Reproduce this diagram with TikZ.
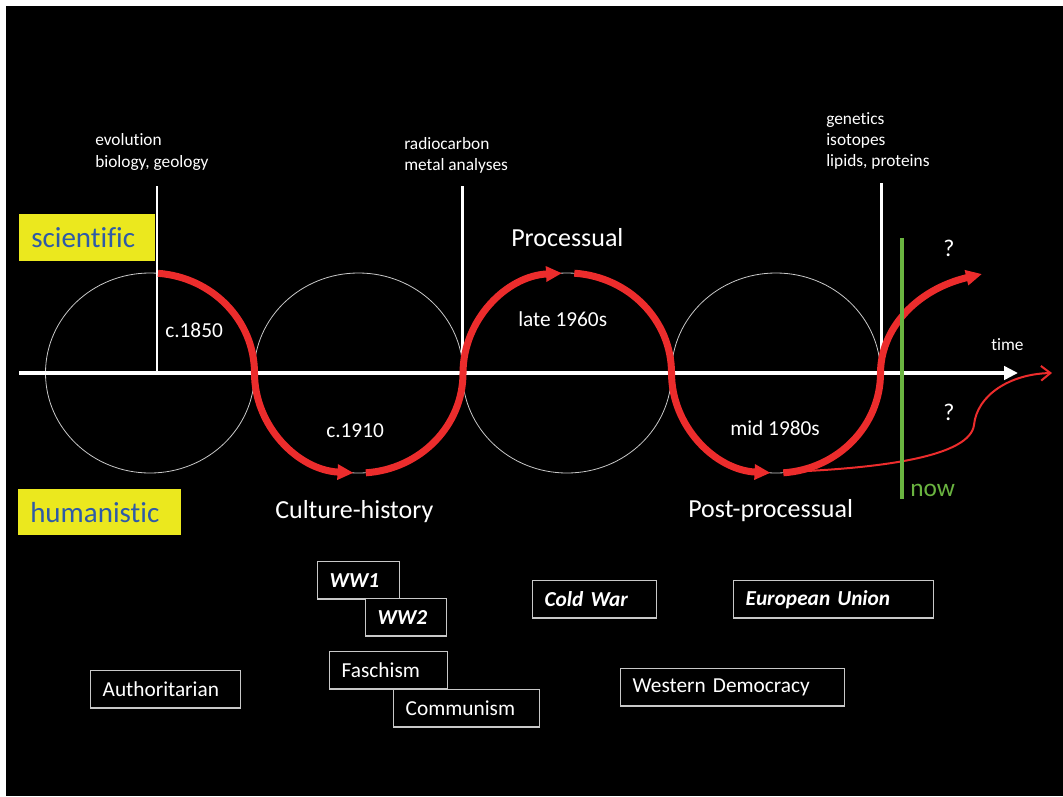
\documentclass[tikz,border=0pt]{standalone}
\usepackage{fontspec}
\setmainfont{Carlito}[Ligatures=NoCommon]
\usetikzlibrary{arrows.meta}
\definecolor{slidered}{RGB}{236,44,44}
\definecolor{slideyellow}{RGB}{235,232,30}
\definecolor{slideblue}{RGB}{46,90,168}
\definecolor{slidegreen}{RGB}{106,180,64}
\definecolor{framegray}{RGB}{200,200,200}
\begin{document}
\begin{tikzpicture}[x=0.75pt,y=0.75pt,yscale=-1,xscale=1,
  smalllabel/.style={anchor=west,inner sep=0pt,align=left,text=white,font=\fontsize{13}{16}\selectfont},
  eralabel/.style={anchor=west,inner sep=0pt,text=white,font=\fontsize{19.5}{23}\selectfont},
  datelabel/.style={anchor=west,inner sep=0pt,text=white,font=\fontsize{16}{19}\selectfont},
  yellowtag/.style={anchor=north west,fill=slideyellow,text=slideblue,inner xsep=9pt,inner ysep=0pt,align=left,font=\fontsize{21.75}{26}\selectfont},
  eventbox/.style={anchor=north west,draw=framegray,line width=1pt,fill=black,text=white,inner xsep=9pt,inner ysep=0pt,minimum height=28pt,align=left,font=\fontsize{16}{19}\selectfont},
  ring/.style={draw=framegray,line width=0.6pt},
  swing/.style={draw=slidered,line width=5.25pt,-{Triangle[length=12pt,width=11pt]}},
]
\useasboundingbox (0,0) rectangle (1063,796);

%Shape: Background
\fill [white] (0,0) rectangle (1063,796);
\fill [black] (6,6) rectangle (1063,796);

%Shape: Ellipses
\draw [ring] (150,373) ellipse [x radius=104.5,y radius=100];
\draw [ring] (358.5,373) ellipse [x radius=104.5,y radius=100];
\draw [ring] (567,373) ellipse [x radius=104.5,y radius=100];
\draw [ring] (776,373) ellipse [x radius=104.5,y radius=100];

%Straight Lines: time axis
\draw [white,line width=3pt,-{Triangle[length=10.5pt,width=10pt]}] (19,373) -- (1018,373);
%Straight Lines: markers
\draw [white,line width=1.8pt] (157,186) -- (157,373);
\draw [white,line width=1.8pt] (462.5,186) -- (462.5,373);
\draw [white,line width=1.8pt] (881.5,183) -- (881.5,373);

%Shape: Arcs
\draw [swing] (158,273.3) arc [start angle=-85.6,end angle=0,x radius=104.5,y radius=100]
  arc [start angle=180,end angle=93,x radius=104.5,y radius=100];
\draw [swing] (365.8,472.8) arc [start angle=86,end angle=0,x radius=104.5,y radius=100]
  arc [start angle=180,end angle=267,x radius=104.5,y radius=100];
\draw [swing] (574.3,273.2) arc [start angle=274,end angle=360,x radius=104.5,y radius=100]
  arc [start angle=180,end angle=93,x radius=104.5,y radius=100];
\draw [swing] (783.3,472.8) arc [start angle=86,end angle=0,x radius=104.5,y radius=100]
  .. controls (880.5,330) and (915,290) .. (982,274);
%Curve: second future
\draw [slidered,line width=1.5pt,-{Straight Barb[length=7pt,width=11pt]}] (785,472) .. controls (890,468) and (970,455) .. (974,425) .. controls (977,395) and (1010,374) .. (1052,373);

%Straight Lines: now
\draw [slidegreen,line width=3pt] (902,238) -- (902,499);

% Text Node
\node [smalllabel] (evo) at (95,152) {evolution\\biology, geology};
% Text Node
\node [smalllabel] (radio) at (404,155.5) {radiocarbon\\metal analyses};
% Text Node
\node [smalllabel] (genet) at (826,141) {genetics\\isotopes\\lipids, proteins};
% Text Node
\node [yellowtag,text width=84pt,minimum height=35.25pt] (sci) at (19,214) {scientific};
% Text Node
\node [yellowtag,text width=104.25pt,minimum height=34.5pt] (hum) at (18,489) {humanistic};
% Text Node
\node [eralabel] (proc) at (511,238) {Processual};
% Text Node
\node [eralabel] (culture) at (275,512) {Culture-history};
% Text Node
\node [eralabel] (post) at (688,511) {Post-processual};
% Text Node
\node [datelabel] (d1850) at (165,330) {c.1850};
% Text Node
\node [datelabel] (d1910) at (326,431) {c.1910};
% Text Node
\node [datelabel] (d1960) at (518,319) {late 1960s};
% Text Node
\node [datelabel] (d1980) at (730,428) {mid 1980s};
% Text Node
\node [smalllabel] (time) at (991,345) {time};
% Text Node
\node [anchor=west,inner sep=0pt,text=white,font=\fontsize{18}{21}\selectfont] (qup) at (943,248) {?};
% Text Node
\node [anchor=west,inner sep=0pt,text=white,font=\fontsize{18}{21}\selectfont] (qdown) at (943,412) {?};
% Text Node
\node [anchor=west,inner sep=0pt,text=slidegreen,font=\fontsize{19}{22}\selectfont] (now) at (910,490) {now};

% Boxes
\node [eventbox,text width=43.5pt,font=\fontsize{16}{19}\selectfont\bfseries\itshape] (ww1) at (317,561) {WW1};
\node [eventbox,text width=42.75pt,font=\fontsize{16}{19}\selectfont\bfseries\itshape] (ww2) at (365,598) {WW2};
\node [eventbox,text width=75pt,font=\fontsize{16}{19}\selectfont\bfseries\itshape] (cold) at (532,580) {Cold War};
\node [eventbox,text width=132pt,font=\fontsize{16}{19}\selectfont\bfseries\itshape] (eu) at (733,580) {European Union};
\node [eventbox,text width=70.5pt] (fasc) at (329,651) {Faschism};
\node [eventbox,text width=91.5pt] (comm) at (393,689) {Communism};
\node [eventbox,text width=150pt] (west) at (620,668) {Western Democracy};
\node [eventbox,text width=94.5pt] (auth) at (90,670) {Authoritarian};

\end{tikzpicture}
\end{document}
